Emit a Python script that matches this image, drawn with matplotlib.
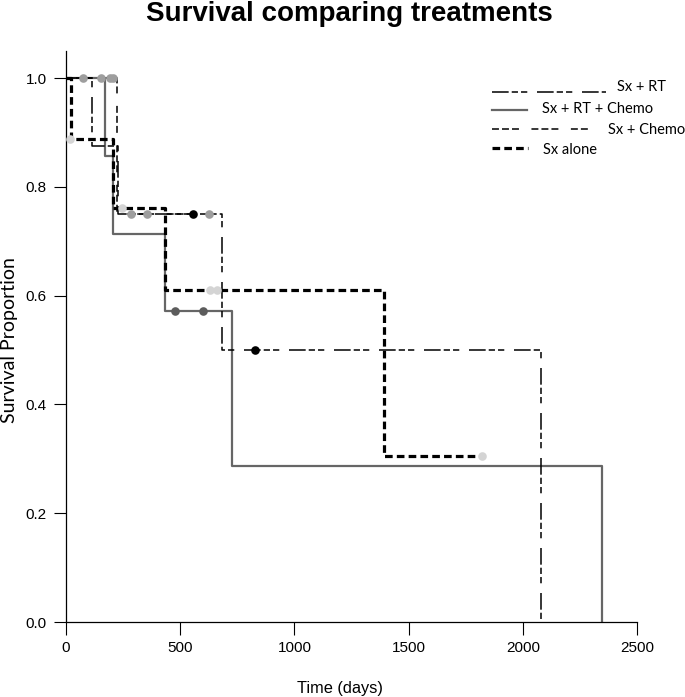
import matplotlib
matplotlib.use("Agg")
import matplotlib.pyplot as plt
from matplotlib.lines import Line2D

plt.rcParams['lines.scale_dashes'] = False

# ---------------- data ----------------
series_names = ["Sx + RT", "Sx + RT + Chemo", "Sx + Chemo", "Sx alone"]

# Sx + RT
rt_time = [0, 115, 228, 681, 2078]
rt_surv = [1.0, 0.875, 0.75, 0.5, 0.0]
rt_cens_time = [556, 827]
rt_cens_surv = [0.75, 0.5]

# Sx + RT + Chemo
rtc_time = [0, 171, 206, 433, 727, 2345]
rtc_surv = [1.0, 0.857, 0.714, 0.571, 0.286, 0.0]
rtc_cens_time = [477, 600]
rtc_cens_surv = [0.571, 0.571]

# Sx + Chemo
ch_time = [0, 223, 626]
ch_surv = [1.0, 0.75, 0.75]
ch_cens_time = [73, 152, 193, 206, 285, 355, 626]
ch_cens_surv = [1.0, 1.0, 1.0, 1.0, 0.75, 0.75, 0.75]

# Sx alone
al_time = [0, 20, 206, 433, 1392, 1821]
al_surv = [1.0, 0.889, 0.762, 0.61, 0.305, 0.305]
al_cens_time = [18, 245, 630, 661, 1821]
al_cens_surv = [0.889, 0.762, 0.61, 0.61, 0.305]

x_ticks = [0, 500, 1000, 1500, 2000, 2500]
y_ticks = [0.0, 0.2, 0.4, 0.6, 0.8, 1.0]

# ---------------- styles ----------------
ls_rt = (0, (12, 2.2, 4.5, 2.2, 4.5, 7))
ls_ch = (0, (5, 2.2, 5, 2.2, 5, 9))
ls_al = (0, (5.5, 3))
col_rtc = "#666666"

W, H = 685, 697
fig = plt.figure(figsize=(W / 100, H / 100), dpi=100)
x0, x1, ytop, ybot = 66, 637, 51, 622
ax = fig.add_axes([x0 / W, 1 - ybot / H, (x1 - x0) / W, (ybot - ytop) / H])

ax.step(rt_time, rt_surv, where='post', color='black', lw=1.1, linestyle=ls_rt, zorder=3)
ax.step(rtc_time, rtc_surv, where='post', color=col_rtc, lw=1.6, zorder=2)
ax.step(ch_time, ch_surv, where='post', color='black', lw=1.1, linestyle=ls_ch, zorder=3)
ax.step(al_time, al_surv, where='post', color='black', lw=2.3, linestyle=ls_al, zorder=4)

ms = 6.2
ax.plot(ch_cens_time, ch_cens_surv, 'o', color='#9e9e9e', ms=ms, mew=0, zorder=5)
ax.plot(al_cens_time, al_cens_surv, 'o', color='#d4d4d4', ms=ms, mew=0, zorder=5)
ax.plot(rtc_cens_time, rtc_cens_surv, 'o', color='#5c5c5c', ms=ms, mew=0, zorder=5)
ax.plot(rt_cens_time, rt_cens_surv, 'o', color='black', ms=ms, mew=0, zorder=5)

ax.set_xlim(0, 2500)
ax.set_ylim(0, 1.05)
ax.set_xticks(x_ticks)
ax.set_yticks(y_ticks)
ax.set_xticklabels([str(v) for v in x_ticks], fontsize=11, family='Liberation Sans')
ax.set_yticklabels([f"{v:.1f}" for v in y_ticks], fontsize=11, family='Liberation Sans')
ax.tick_params(direction='out', length=9, width=0.8, pad=5)
for s in ['top', 'right']:
    ax.spines[s].set_visible(False)
for s in ['left', 'bottom']:
    ax.spines[s].set_linewidth(0.9)

fig.text(349 / W, 1 - 21 / H, "Survival comparing treatments", ha='center', va='baseline',
         fontsize=20, fontweight='bold', family='Liberation Sans')
fig.text(340 / W, 1 - 688 / H, "Time (days)", ha='center', va='center',
         fontsize=11.8, family='Liberation Sans')
fig.text(10 / W, 1 - 340 / H, "Survival Proportion", ha='center', va='center',
         rotation=90, fontsize=14, family='Lato')

# ---------------- legend ----------------
leg_rows = [
    (92, 606, 617, 87, dict(color='black', lw=1.1, linestyle=ls_rt)),
    (110, 527, 542, 109, dict(color=col_rtc, lw=1.6)),
    (129, 589, 608, 130, dict(color='black', lw=1.1, linestyle=ls_ch)),
    (148, 528, 543, 150, dict(color='black', lw=2.3, linestyle=ls_al)),
]
for name, (ly, lx1, tx, ty, st) in zip(series_names, leg_rows):
    fig.add_artist(Line2D([492 / W, lx1 / W], [1 - ly / H, 1 - ly / H], **st))
    fig.text(tx / W, 1 - ty / H, name, ha='left', va='center', fontsize=10.5, family='Lato')

fig.savefig("out.png", dpi=100)
